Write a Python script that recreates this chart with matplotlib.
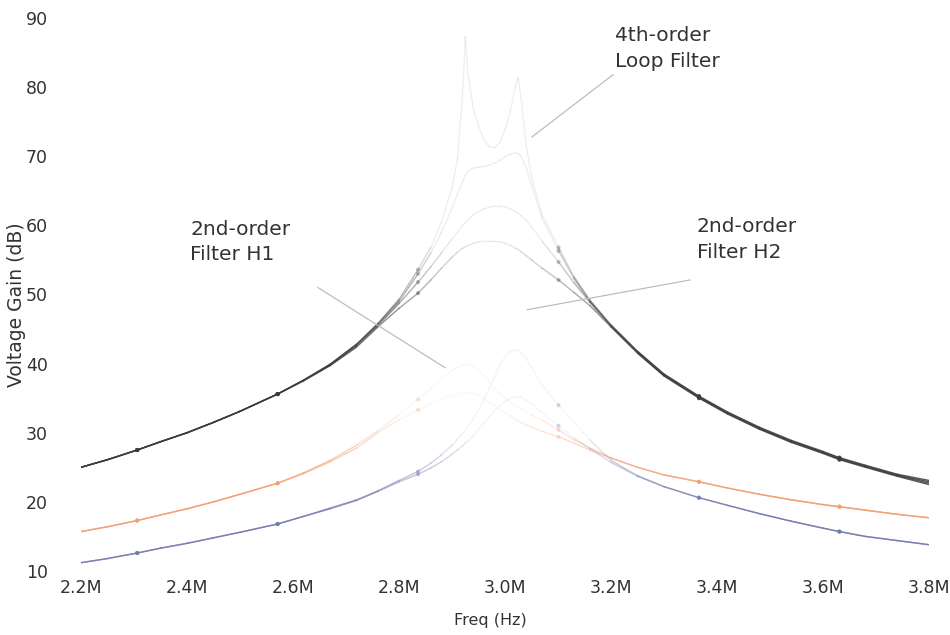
import numpy as np
import matplotlib
matplotlib.use("Agg")
import matplotlib.pyplot as plt
from matplotlib.collections import LineCollection
from matplotlib.ticker import FuncFormatter

plt.rcParams['font.family'] = ['DejaVu Sans']

# frequency grid in MHz
freq = [2.20, 2.25, 2.306, 2.35, 2.40, 2.45, 2.50, 2.571, 2.62, 2.67,
        2.72, 2.76, 2.80, 2.836, 2.86, 2.88, 2.90, 2.91, 2.92, 2.925,
        2.93, 2.94, 2.95, 2.96, 2.97, 2.98, 2.99, 3.00, 3.01, 3.02,
        3.025, 3.03, 3.04, 3.05, 3.07, 3.101, 3.13, 3.16, 3.20, 3.25,
        3.30, 3.366, 3.42, 3.48, 3.54, 3.60, 3.631, 3.68, 3.74, 3.80]
marker_idx = [2, 7, 13, 35, 41, 46]

# 4th-order loop filter, gain in dB
loop_a = [25.0, 26.1, 27.5, 28.7, 30.0, 31.5, 33.1, 35.6, 37.6, 39.9,
          42.8, 45.8, 49.3, 53.6, 56.8, 60.5, 65.5, 69.5, 79.0, 87.3,
          82.0, 77.0, 74.3, 72.4, 71.4, 71.2, 72.0, 73.8, 76.5, 80.2,
          81.3, 78.5, 71.5, 67.0, 61.5, 56.8, 52.6, 49.2, 45.6, 41.8,
          38.5, 35.3, 33.0, 30.8, 28.9, 27.3, 26.4, 25.3, 24.0, 23.1]
loop_b = [25.0, 26.1, 27.5, 28.7, 30.0, 31.5, 33.1, 35.6, 37.6, 39.9,
          42.8, 45.7, 49.0, 53.0, 56.0, 59.0, 62.5, 64.5, 66.3, 67.2,
          67.8, 68.3, 68.4, 68.5, 68.7, 69.0, 69.4, 69.9, 70.3, 70.5,
          70.4, 70.0, 68.3, 65.8, 61.0, 56.3, 52.3, 49.0, 45.5, 41.7,
          38.4, 35.2, 32.9, 30.7, 28.8, 27.2, 26.3, 25.2, 23.9, 22.9]
loop_c = [25.0, 26.1, 27.5, 28.7, 30.0, 31.5, 33.1, 35.6, 37.6, 39.8,
          42.6, 45.5, 48.7, 51.8, 54.0, 56.0, 58.0, 59.0, 60.0, 60.4,
          60.8, 61.5, 62.0, 62.4, 62.6, 62.8, 62.8, 62.7, 62.4, 62.0,
          61.7, 61.4, 60.7, 59.8, 57.7, 54.7, 51.7, 48.9, 45.4, 41.6,
          38.3, 35.1, 32.8, 30.6, 28.7, 27.1, 26.2, 25.1, 23.8, 22.7]
loop_d = [25.0, 26.1, 27.5, 28.7, 30.0, 31.5, 33.1, 35.6, 37.5, 39.7,
          42.4, 45.3, 48.0, 50.2, 52.1, 53.8, 55.4, 56.1, 56.7, 56.9,
          57.1, 57.4, 57.6, 57.7, 57.7, 57.7, 57.6, 57.4, 57.1, 56.7,
          56.5, 56.2, 55.6, 55.0, 53.8, 52.1, 50.3, 48.4, 45.3, 41.5,
          38.2, 35.0, 32.7, 30.5, 28.6, 27.0, 26.1, 25.0, 23.7, 22.5]

# 2nd-order filter H1
h1_a = [15.7, 16.4, 17.3, 18.1, 19.0, 20.0, 21.1, 22.7, 24.2, 26.0,
        28.2, 30.3, 32.6, 34.8, 36.4, 37.8, 39.0, 39.5, 39.8, 39.9,
        39.9, 39.6, 39.0, 38.3, 37.4, 36.5, 35.6, 35.0, 34.4, 33.9,
        33.6, 33.4, 33.0, 32.6, 31.8, 30.4, 29.0, 27.8, 26.4, 25.0,
        23.9, 22.9, 22.0, 21.1, 20.3, 19.6, 19.3, 18.8, 18.2, 17.7]
h1_b = [15.7, 16.4, 17.3, 18.1, 19.0, 20.0, 21.1, 22.7, 24.1, 25.8,
        27.8, 30.0, 31.9, 33.3, 34.2, 34.9, 35.4, 35.6, 35.8, 35.8,
        35.8, 35.7, 35.4, 35.0, 34.5, 34.0, 33.4, 32.9, 32.4, 31.9,
        31.7, 31.5, 31.1, 30.8, 30.2, 29.4, 28.5, 27.5, 26.3, 25.0,
        23.9, 22.9, 22.0, 21.1, 20.3, 19.6, 19.3, 18.8, 18.2, 17.7]

# 2nd-order filter H2
h2_a = [11.2, 11.8, 12.6, 13.3, 14.0, 14.8, 15.6, 16.8, 17.9, 19.1,
        20.3, 21.6, 23.1, 24.4, 25.6, 26.8, 28.2, 29.0, 29.9, 30.4,
        30.9, 32.0, 33.3, 34.7, 36.3, 38.0, 39.7, 41.0, 41.8, 42.0,
        41.9, 41.6, 40.7, 39.5, 36.9, 34.0, 31.5, 29.0, 26.0, 23.8,
        22.2, 20.6, 19.5, 18.3, 17.2, 16.2, 15.7, 15.0, 14.4, 13.8]
h2_b = [11.2, 11.8, 12.6, 13.3, 14.0, 14.8, 15.6, 16.8, 17.9, 19.0,
        20.2, 21.5, 22.9, 24.0, 24.9, 25.8, 26.9, 27.5, 28.1, 28.5,
        28.8, 29.6, 30.5, 31.4, 32.3, 33.2, 33.9, 34.5, 35.0, 35.2,
        35.2, 35.1, 34.7, 34.2, 32.9, 31.0, 29.3, 27.7, 25.7, 23.7,
        22.2, 20.6, 19.5, 18.3, 17.2, 16.2, 15.7, 15.0, 14.4, 13.8]


def draw_faded(ax, x, y, rgb, lo, hi, a_hi, a_lo, lw=1.0):
    # line gets paler as the gain rises
    x = np.asarray(x)
    y = np.asarray(y)
    pts = np.column_stack([x, y])
    segs = np.stack([pts[:-1], pts[1:]], axis=1)
    ymid = (y[:-1] + y[1:]) / 2
    alpha = np.interp(ymid, [lo, hi], [a_hi, a_lo])
    lc = LineCollection(segs, colors=[(*rgb, a) for a in alpha],
                        linewidths=lw, capstyle='round', joinstyle='round')
    ax.add_collection(lc)
    mx = x[marker_idx]
    my = y[marker_idx]
    ma = np.clip(np.interp(my, [lo, hi], [a_hi, a_lo]), 0.3, 1)
    ax.scatter(mx, my, s=9, color=[(*rgb, a) for a in ma], linewidths=0, zorder=3)


fig = plt.figure(figsize=(9.5, 6.35), dpi=100)
ax = fig.add_axes([0.0853, 0.1008, 0.8926, 0.8709])

dark = (0.24, 0.24, 0.24)
orange = (0.95, 0.62, 0.45)
blue = (0.45, 0.48, 0.68)

for curve in (loop_d, loop_c, loop_b, loop_a):
    draw_faded(ax, freq, curve, dark, 40, 58, 0.85, 0.08)
for curve in (h1_b, h1_a):
    draw_faded(ax, freq, curve, orange, 21, 33, 0.85, 0.07)
for curve in (h2_b, h2_a):
    draw_faded(ax, freq, curve, blue, 18, 30, 0.80, 0.07)

# leader lines for the labels
lead = dict(color='#bdbdbd', lw=0.9)
ax.plot([3.204, 3.051], [81.8, 72.8], **lead)
ax.plot([2.647, 2.887], [51.0, 39.4], **lead)
ax.plot([3.349, 3.042], [52.1, 47.8], **lead)

txt = dict(fontsize=14.5, color='#333333', va='center', ha='left', linespacing=1.45)
ax.text(3.2075, 85.6, '4th-order\nLoop Filter', **txt)
ax.text(2.4057, 57.6, '2nd-order\nFilter H1', **txt)
ax.text(3.362, 58.0, '2nd-order\nFilter H2', **txt)

ax.set_xlim(2.2, 3.8)
ax.set_ylim(10, 90)
ax.set_xticks([2.2, 2.4, 2.6, 2.8, 3.0, 3.2, 3.4, 3.6, 3.8])
ax.set_yticks(range(10, 91, 10))
ax.xaxis.set_major_formatter(FuncFormatter(lambda v, p: f'{v:.1f}M'))
for s in ax.spines.values():
    s.set_visible(False)
ax.tick_params(axis='y', length=0, pad=24, labelsize=12.5, labelcolor='#333333')
ax.tick_params(axis='x', length=0, pad=6, labelsize=12.5, labelcolor='#333333')

fig.text(490 / 950, 1 - 620 / 635, 'Freq (Hz)', ha='center', va='center',
         fontsize=11.5, color='#333333')
fig.text(17 / 950, 1 - 305 / 635, 'Voltage Gain (dB)', ha='center', va='center',
         rotation=90, fontsize=13.5, color='#333333')

fig.savefig('out.png', dpi=100)
